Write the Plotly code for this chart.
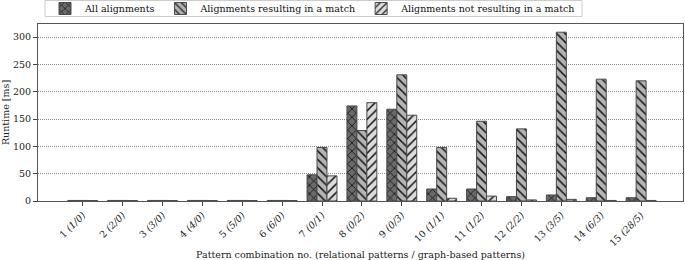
import plotly.graph_objects as go

categories = ["1", "2", "3", "4", "5", "6", "7", "8", "9", "10", "11", "12", "13", "14", "15"]
pattern_counts = ["1/0", "2/0", "3/0", "4/0", "5/0", "6/0", "0/1", "0/2", "0/3",
                  "1/1", "1/2", "2/2", "3/5", "6/3", "28/5"]
all_alignments = [1.0, 1.0, 1.0, 1.0, 1.0, 1.0, 48, 174, 168, 22, 22, 8, 11, 6, 6]
match_alignments = [1.0, 1.0, 1.0, 1.0, 1.0, 1.0, 98, 129, 231, 98, 146, 132, 309, 223, 220]
nomatch_alignments = [0.8, 0.8, 0.8, 0.8, 0.8, 0.8, 46, 180, 157, 5, 9, 2, 3, 1, 1]

tick_text = [f"{c} <i>({p})</i>" for c, p in zip(categories, pattern_counts)]
xs = list(range(len(categories)))

font_family = "DejaVu Serif"

series = [
    ("All alignments", all_alignments, "#6a6a6a", "x"),
    ("Alignments resulting in a match", match_alignments, "#b4b4b4", "\\"),
    ("Alignments not resulting in a match", nomatch_alignments, "#dcdcdc", "/"),
]

fig = go.Figure()
for name, vals, col, shape in series:
    fig.add_trace(go.Bar(
        x=xs, y=vals, name=name,
        marker=dict(
            color=col,
            line=dict(color="#4a4a4a", width=1),
            pattern=dict(shape=shape, fgcolor="#111111", bgcolor=col,
                         size=6, solidity=0.25, fillmode="replace"),
        ),
    ))

# legend frame (page px: x 45..582, y 0.5..16.5; plot area 38..683 x 24..201)
fig.add_shape(type="rect", xref="paper", yref="paper",
              x0=(45 - 38) / 645, x1=(582 - 38) / 645,
              y0=(201 - 16.5) / 177, y1=(201 - 0.5) / 177,
              line=dict(color="#cccccc", width=1), fillcolor="white", layer="above")

fig.update_layout(
    width=685, height=260,
    margin=dict(l=38, r=2, t=24, b=59, autoexpand=False),
    paper_bgcolor="white", plot_bgcolor="white",
    barmode="group", bargap=0.25, bargroupgap=0,
    font=dict(family=font_family, size=9, color="#222222"),
    showlegend=True,
    legend=dict(
        orientation="h", x=(45 - 38) / 645, xanchor="left",
        y=(201 - 8.5) / 177, yanchor="middle",
        bgcolor="rgba(0,0,0,0)", borderwidth=0,
        font=dict(family=font_family, size=9.5, color="#111111"),
        itemwidth=30, tracegroupgap=0,
    ),
    xaxis=dict(
        tickmode="array", tickvals=xs, ticktext=tick_text, tickangle=-45,
        range=[-1.12, 15.05], showgrid=False, zeroline=False,
        ticks="outside", ticklen=4, tickcolor="#444444",
        showline=True, linecolor="#555555", linewidth=1, mirror=True,
        automargin=False,
        title=dict(text="Pattern combination no. (relational patterns / graph-based patterns)",
                   font=dict(size=9.5), standoff=4),
        tickfont=dict(size=9.5),
    ),
    yaxis=dict(
        range=[0, 324], tickvals=[0, 50, 100, 150, 200, 250, 300],
        showgrid=True, gridcolor="#8c8c8c", griddash="1px,1px", gridwidth=1,
        zeroline=False, ticks="outside", ticklen=4, tickcolor="#444444",
        showline=True, linecolor="#555555", linewidth=1, mirror=True,
        automargin=False,
        title=dict(text="Runtime [ms]", font=dict(size=9.5), standoff=4),
        tickfont=dict(size=9.5),
    ),
)

fig.write_html("out.html", config={"displayModeBar": False},
               post_script="document.body.style.margin='0';")
